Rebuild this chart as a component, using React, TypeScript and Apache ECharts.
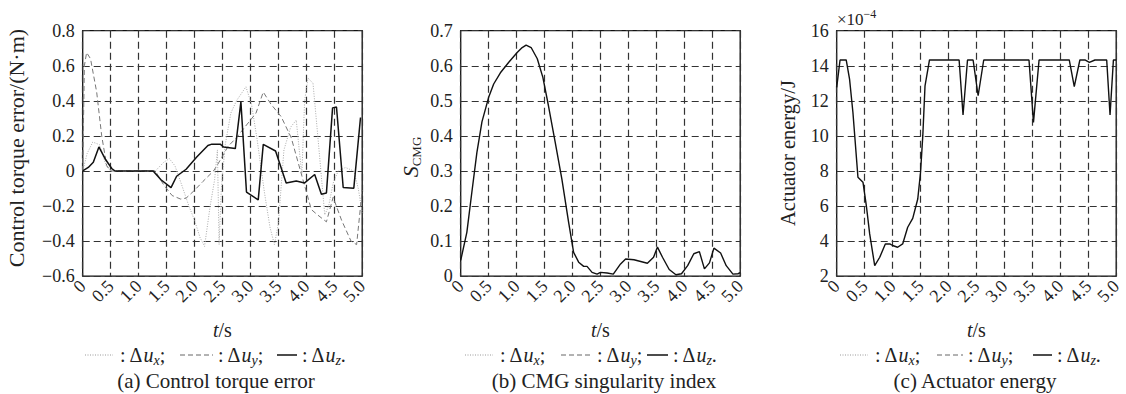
import React, { useEffect, useRef } from "react";
import * as echarts from "echarts";

// ---------- DATA ----------
const timeTicks = [0, 0.5, 1.0, 1.5, 2.0, 2.5, 3.0, 3.5, 4.0, 4.5, 5.0];

// (a) Control torque error, N·m  — [t (s), value]
const torqueErrX: [number, number][] = [
  [0, 0], [0.08, 0.1], [0.18, 0.165], [0.3, 0.15], [0.42, 0.03], [0.5, 0], [1.3, 0],
  [1.45, 0.05], [1.55, 0.07], [1.65, 0.03], [1.75, -0.06], [1.9, -0.2], [2.0, -0.28],
  [2.1, -0.38], [2.18, -0.43], [2.28, -0.2], [2.36, -0.05], [2.41, 0.12], [2.44, -0.42],
  [2.48, -0.1], [2.55, 0.15], [2.65, 0.33], [2.75, 0.4], [2.92, 0.48], [3.02, 0.38],
  [3.12, 0.18], [3.25, -0.12], [3.35, -0.32], [3.43, -0.42], [3.5, -0.3], [3.6, 0.12],
  [3.72, 0.25], [3.82, 0.29], [3.88, 0.1], [3.92, -0.02], [3.97, 0.4], [4.03, 0.53],
  [4.12, 0.5], [4.2, 0.22], [4.33, -0.25], [4.4, -0.2], [4.48, -0.07], [4.57, 0.0],
  [4.7, 0.02], [4.85, 0.0], [4.93, -0.1], [5.0, -0.24],
];
const torqueErrY: [number, number][] = [
  [0, 0], [0.03, 0.6], [0.07, 0.675], [0.14, 0.64], [0.25, 0.45], [0.34, 0.2], [0.43, 0.03],
  [0.5, 0], [1.3, 0], [1.45, -0.08], [1.6, -0.14], [1.75, -0.16], [1.85, -0.155],
  [2.0, -0.11], [2.15, -0.06], [2.34, 0.0], [2.42, 0.04], [2.6, 0.14], [2.75, 0.19],
  [3.0, 0.29], [3.1, 0.33], [3.23, 0.45], [3.37, 0.38], [3.55, 0.31], [3.73, 0.19],
  [3.94, -0.05], [4.09, -0.22], [4.2, -0.25], [4.36, -0.29], [4.48, -0.15], [4.63, -0.28],
  [4.8, -0.4], [4.9, -0.42], [5.0, -0.11],
];
const torqueErrZ: [number, number][] = [
  [0, 0], [0.1, 0.02], [0.19, 0.05], [0.29, 0.137], [0.4, 0.07], [0.52, 0.014], [0.58, 0],
  [1.26, 0], [1.4, -0.05], [1.58, -0.095], [1.68, -0.03], [1.85, 0.01], [2.04, 0.08],
  [2.24, 0.145], [2.31, 0.153], [2.46, 0.153], [2.52, 0.137], [2.73, 0.128], [2.83, 0.394],
  [2.93, -0.12], [3.14, -0.165], [3.23, 0.152], [3.45, 0.114], [3.64, -0.068],
  [3.82, -0.057], [3.97, -0.068], [4.15, -0.02], [4.27, -0.133], [4.36, -0.125],
  [4.47, 0.36], [4.54, 0.365], [4.66, -0.094], [4.85, -0.098], [4.97, 0.305],
];

// (b) CMG singularity index
const singularity: [number, number][] = [
  [0, 0.045], [0.11, 0.125], [0.2, 0.24], [0.29, 0.353], [0.38, 0.44], [0.5, 0.51],
  [0.59, 0.548], [0.71, 0.58], [0.86, 0.61], [1.01, 0.638], [1.1, 0.652], [1.17, 0.659],
  [1.26, 0.652], [1.37, 0.62], [1.47, 0.567], [1.57, 0.486], [1.69, 0.382], [1.81, 0.277],
  [1.93, 0.154], [2.02, 0.068], [2.11, 0.04], [2.2, 0.028], [2.26, 0.028], [2.35, 0.011],
  [2.44, 0.006], [2.5, 0.011], [2.62, 0.009], [2.73, 0.006], [2.86, 0.035], [2.95, 0.049],
  [3.1, 0.047], [3.34, 0.037], [3.45, 0.054], [3.52, 0.083], [3.61, 0.054], [3.73, 0.019],
  [3.85, 0.004], [3.95, 0.007], [4.06, 0.03], [4.17, 0.064], [4.27, 0.07], [4.36, 0.021],
  [4.45, 0.038], [4.53, 0.08], [4.65, 0.066], [4.75, 0.03], [4.87, 0.006], [4.96, 0.007],
  [5.0, 0.01],
];

// (c) Actuator energy, ×10^-4 J
const energy: [number, number][] = [
  [0, 12.77], [0.06, 14.33], [0.17, 14.33], [0.23, 13.24], [0.29, 11.35], [0.38, 7.64],
  [0.47, 7.36], [0.53, 6.03], [0.59, 4.41], [0.68, 2.6], [0.77, 3.08], [0.87, 3.84],
  [0.95, 3.84], [1.0, 3.75], [1.09, 3.65], [1.18, 3.84], [1.27, 4.79], [1.36, 5.3],
  [1.45, 6.4], [1.5, 7.93], [1.54, 10.0], [1.58, 12.86], [1.66, 14.33], [2.19, 14.33],
  [2.26, 11.19], [2.34, 14.33], [2.44, 14.33], [2.53, 12.29], [2.63, 14.33], [3.44, 14.33],
  [3.52, 10.77], [3.62, 14.33], [4.16, 14.33], [4.25, 12.81], [4.35, 14.33], [4.44, 14.33],
  [4.52, 14.19], [4.62, 14.33], [4.83, 14.33], [4.89, 11.19], [4.95, 14.33], [5.0, 14.33],
];

const panelTitles = ["(a) Control torque error", "(b) CMG singularity index", "(c) Actuator energy"];

// ---------- STYLE ----------
const FONT = "'Liberation Serif', 'Times New Roman', serif";
const gridLeft = [82.7, 460.7, 836.7];
const gridTop = 30.7;
const gridW = 279.5;
const gridH = 245.5;

const fmtNum = (v: number) => {
  if (Math.abs(v) < 1e-9) return "0";
  const s = Math.abs(v).toFixed(1);
  return v < 0 ? "\u2212" + s : s;
};
const fmtInt = (v: number) => String(Math.round(v));

const splitStyle = { show: true, lineStyle: { type: [7, 4], color: "#333", width: 1.2 } };

function makeX(i: number) {
  return {
    type: "value",
    gridIndex: i,
    min: timeTicks[0],
    max: timeTicks[timeTicks.length - 1],
    interval: 0.5,
    axisLine: { show: false },
    axisTick: { show: false },
    splitLine: splitStyle,
    axisLabel: {
      rotate: 45,
      fontSize: 18,
      fontFamily: FONT,
      color: "#222",
      margin: 7,
      showMinLabel: true,
      showMaxLabel: true,
      formatter: (v: number) => (v === 0 ? "0" : v.toFixed(1)),
    },
    name: "{it|t}/s",
    nameLocation: "middle",
    nameGap: 44,
    nameTextStyle: {
      fontSize: 20,
      fontFamily: FONT,
      color: "#222",
      rich: { it: { fontSize: 20, fontFamily: FONT, fontStyle: "italic", color: "#222" } },
    },
  };
}

const legendDef = [
  { d: [85, 113], t1: 120, s: [180, 213], t2: 218, l: [277, 297], t3: 302 },
  { d: [465, 493], t1: 500, s: [561, 592], t2: 597, l: [647, 668], t3: 673 },
  { d: [840, 868], t1: 875, s: [937, 963], t2: 968, l: [1033, 1052], t3: 1057 },
];
const legendY = 355;

function legendText(x: number, sub: string, end: string) {
  return {
    type: "text",
    x,
    y: legendY,
    style: {
      text: ": \u0394{u|u}{sub|" + sub + "}" + end,
      fontSize: 20,
      fontFamily: FONT,
      fill: "#222",
      lineHeight: 24,
      verticalAlign: "middle",
      align: "left",
      rich: {
        u: { fontSize: 20, fontFamily: FONT, fontStyle: "italic", fill: "#222", lineHeight: 24 },
        sub: { fontSize: 14, fontFamily: FONT, fontStyle: "italic", fill: "#222", lineHeight: 14, verticalAlign: "bottom" },
      },
    },
  };
}

export default function App() {
  const ref = useRef<HTMLDivElement>(null);
  useEffect(() => {
    if (!ref.current) return;
    const chart = echarts.init(ref.current, null, { renderer: "svg" });

    const graphics: any[] = [];
    legendDef.forEach((L) => {
      graphics.push({ type: "line", shape: { x1: L.d[0], y1: legendY, x2: L.d[1], y2: legendY }, style: { stroke: "#999", lineWidth: 1, lineDash: [1, 1.5] } });
      graphics.push(legendText(L.t1, "x", ";"));
      graphics.push({ type: "line", shape: { x1: L.s[0], y1: legendY, x2: L.s[1], y2: legendY }, style: { stroke: "#666", lineWidth: 1, lineDash: [5, 3] } });
      graphics.push(legendText(L.t2, "y", ";"));
      graphics.push({ type: "line", shape: { x1: L.l[0], y1: legendY, x2: L.l[1], y2: legendY }, style: { stroke: "#111", lineWidth: 1.5 } });
      graphics.push(legendText(L.t3, "z", "."));
    });
    const titleX = [216, 604, 975];
    panelTitles.forEach((t, i) => {
      graphics.push({
        type: "text",
        x: titleX[i],
        y: 381,
        style: { text: t, fontSize: 21, fontFamily: FONT, fill: "#222", align: "center", verticalAlign: "middle" },
      });
    });
    // y-axis names
    graphics.push({
      type: "text", x: 16, y: 148, rotation: Math.PI / 2,
      style: { text: "Control torque error/(N\u00b7m)", fontSize: 22, fontFamily: FONT, fill: "#222", align: "center", verticalAlign: "middle" },
    });
    graphics.push({
      type: "text", x: 410, y: 157, rotation: Math.PI / 2,
      style: {
        text: "{s|S}{sub|CMG}", fontSize: 22, fontFamily: FONT, fill: "#222", align: "center", verticalAlign: "middle", lineHeight: 26,
        rich: {
          s: { fontSize: 22, fontFamily: FONT, fontStyle: "italic", fill: "#222", lineHeight: 26 },
          sub: { fontSize: 13, fontFamily: FONT, fill: "#222", lineHeight: 13, verticalAlign: "bottom" },
        },
      },
    });
    graphics.push({
      type: "text", x: 788, y: 153, rotation: Math.PI / 2,
      style: { text: "Actuator energy/J", fontSize: 20.5, fontFamily: FONT, fill: "#222", align: "center", verticalAlign: "middle" },
    });
    graphics.push({
      type: "text",
      x: 837,
      y: 19,
      style: {
        text: "\u00d710{sup|\u22124}",
        fontSize: 17,
        fontFamily: FONT,
        fill: "#222",
        lineHeight: 22,
        verticalAlign: "middle",
        align: "left",
        rich: { sup: { fontSize: 12, fontFamily: FONT, fill: "#222", lineHeight: 12, verticalAlign: "top" } },
      },
    });

    const lineBase = { type: "line", showSymbol: false, symbol: "none", smooth: false };
    const yLabel = { fontSize: 18, fontFamily: FONT, color: "#222", margin: 8 };

    chart.setOption({
      animation: false,
      textStyle: { fontFamily: FONT },
      grid: gridLeft.map((l) => ({
        left: l,
        top: gridTop,
        width: gridW,
        height: gridH,
        show: true,
        borderColor: "#111",
        borderWidth: 1.3,
        backgroundColor: "transparent",
      })),
      xAxis: [0, 1, 2].map(makeX),
      yAxis: [
        {
          type: "value", gridIndex: 0, min: -0.6, max: 0.8, interval: 0.2,
          axisLine: { show: false }, axisTick: { show: false }, splitLine: splitStyle,
          axisLabel: { ...yLabel, formatter: fmtNum },
        },
        {
          type: "value", gridIndex: 1, min: 0, max: 0.7, interval: 0.1,
          axisLine: { show: false }, axisTick: { show: false }, splitLine: splitStyle,
          axisLabel: { ...yLabel, formatter: fmtNum },
        },
        {
          type: "value", gridIndex: 2, min: 2, max: 16, interval: 2,
          axisLine: { show: false }, axisTick: { show: false }, splitLine: splitStyle,
          axisLabel: { ...yLabel, formatter: fmtInt },
        },
      ],
      series: [
        { ...lineBase, name: "dux", xAxisIndex: 0, yAxisIndex: 0, data: torqueErrX, lineStyle: { color: "#aaa", width: 1, type: [1, 1.5] } },
        { ...lineBase, name: "duy", xAxisIndex: 0, yAxisIndex: 0, data: torqueErrY, lineStyle: { color: "#777", width: 1, type: [5, 3] } },
        { ...lineBase, name: "duz", xAxisIndex: 0, yAxisIndex: 0, data: torqueErrZ, lineStyle: { color: "#111", width: 1.5, type: "solid" } },
        { ...lineBase, name: "S", xAxisIndex: 1, yAxisIndex: 1, data: singularity, lineStyle: { color: "#111", width: 1.4, type: "solid" } },
        { ...lineBase, name: "E", xAxisIndex: 2, yAxisIndex: 2, data: energy, lineStyle: { color: "#111", width: 1.4, type: "solid" } },
      ],
      graphic: graphics,
    });
    return () => chart.dispose();
  }, []);

  return <div ref={ref} style={{ position: "absolute", left: 0, top: 0, width: 1126, height: 394, background: "#fff" }} />;
}
